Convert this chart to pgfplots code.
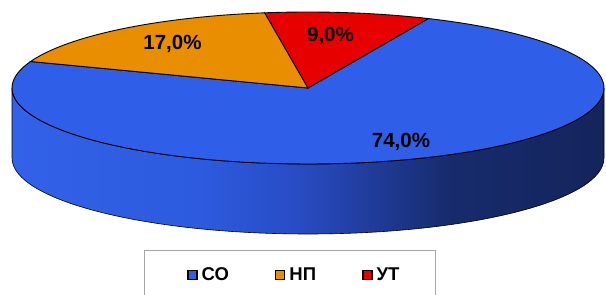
\documentclass[border=0pt]{standalone}
\usepackage{pgfplots}
\pgfplotsset{compat=1.18}
\usepackage{fontspec}
\setmainfont{Liberation Sans}
\definecolor{cSO}{RGB}{47,95,232}
\definecolor{cNP}{RGB}{232,142,0}
\definecolor{cUT}{RGB}{230,0,0}
\definecolor{s1}{RGB}{50,98,232}
\definecolor{s2}{RGB}{45,90,222}
\definecolor{s3}{RGB}{40,76,196}
\definecolor{s4}{RGB}{31,58,150}
\definecolor{s5}{RGB}{23,43,108}
\definecolor{s6}{RGB}{20,36,92}
\pgfdeclarehorizontalshading{sideshade}{100bp}{color(0bp)=(s1); color(25bp)=(s1); color(41bp)=(s2); color(49bp)=(s3); color(56bp)=(s4); color(62bp)=(s5); color(75bp)=(s6); color(100bp)=(s6)}
% data (percent)
\def\pSO{74.0}
\def\pNP{17.0}
\def\pUT{9.0}
\def\startang{66}
\pgfmathsetmacro{\aA}{\startang}
\pgfmathsetmacro{\aB}{\aA+3.6*\pUT}
\pgfmathsetmacro{\aC}{\aB+3.6*\pNP}
\pgfmathsetmacro{\aD}{\aC+3.6*\pSO}
\begin{document}
\begin{tikzpicture}
\begin{axis}[
  scale only axis, width=606bp, height=295bp,
  xmin=0, xmax=606, ymin=0, ymax=295,
  hide axis, clip=false,
  legend columns=3,
  legend style={draw=none, fill=none, at={(axis cs:187,20)}, anchor=west,
    inner sep=0pt, font=\bfseries\fontsize{18.5bp}{20bp}\selectfont,
    /tikz/every odd column/.append style={column sep=0bp},
    /tikz/every even column/.append style={column sep=42bp},
    nodes={inner xsep=4bp, inner ysep=0pt}},
  legend image code/.code={\draw[#1,draw=black,line width=1.5pt] (0bp,-4.5bp) rectangle (9bp,4.5bp);},
]
% side
\addplot[forget plot, draw=black, line width=0.6pt, shading=sideshade, domain=180:360, samples=91]
  ({308+296*cos(x)},{207+76*sin(x)}) -- ++(0bp,-70bp) arc[start angle=0,end angle=-180,x radius=296bp,y radius=76bp] -- cycle;
% top slices
\addplot[fill=cSO, draw=black, line width=0.9pt, domain=\aC:\aD, samples=120]
  ({308+296*cos(x)},{207+76*sin(x)}) -- (axis cs:308,207) -- cycle;
\addlegendentry{СО}
\addplot[fill=cNP, draw=black, line width=0.9pt, domain=\aB:\aC, samples=40]
  ({308+296*cos(x)},{207+76*sin(x)}) -- (axis cs:308,207) -- cycle;
\addlegendentry{НП}
\addplot[fill=cUT, draw=black, line width=0.9pt, domain=\aA:\aB, samples=30]
  ({308+296*cos(x)},{207+76*sin(x)}) -- (axis cs:308,207) -- cycle;
\addlegendentry{УТ}
\node[font=\bfseries\fontsize{20.5bp}{24bp}\selectfont] at (axis cs:172.5,251) {17,0\%};
\node[font=\bfseries\fontsize{20.5bp}{24bp}\selectfont] at (axis cs:330.5,259) {9,0\%};
\node[font=\bfseries\fontsize{20.5bp}{24bp}\selectfont] at (axis cs:401,153.5) {74,0\%};
\draw[gray!70, line width=0.8pt] (axis cs:144,-5) rectangle (axis cs:435,45);
\end{axis}
\pgfresetboundingbox
\path (0,0) rectangle (606bp,295bp);
\end{tikzpicture}
\end{document}
